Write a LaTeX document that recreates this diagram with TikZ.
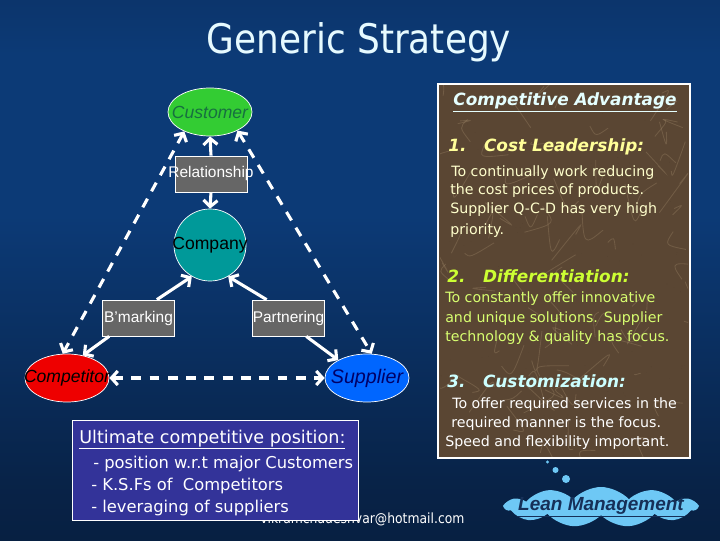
\documentclass[tikz,border=0pt]{standalone}
\usepackage{fontspec}
\setmainfont{Liberation Sans}
\newfontfamily\tah[FakeStretch=0.88]{DejaVu Sans}
\newfontfamily\verd{DejaVu Sans}
\usetikzlibrary{arrows.meta,shapes.geometric,shapes.symbols}
\definecolor{navytop}{HTML}{0A1B38}
\definecolor{navymid}{HTML}{0C3A76}
\definecolor{navybot}{HTML}{051328}
\definecolor{boxgray}{HTML}{666666}
\definecolor{custgreen}{HTML}{33CC33}
\definecolor{custtext}{HTML}{177040}
\definecolor{compteal}{HTML}{009999}
\definecolor{compred}{HTML}{EE0000}
\definecolor{supblue}{HTML}{0066FF}
\definecolor{suptext}{HTML}{000066}
\definecolor{posblue}{HTML}{333399}
\definecolor{marble}{HTML}{5A4633}
\definecolor{vein}{HTML}{A89070}
\definecolor{veindark}{HTML}{2A1E14}
\definecolor{titlecol}{HTML}{E6FAFF}
\definecolor{headone}{HTML}{FFFF99}
\definecolor{headtwo}{HTML}{CCFF33}
\definecolor{headthree}{HTML}{CCFFFF}
\definecolor{bodyone}{HTML}{FFFFCC}
\definecolor{bodytwo}{HTML}{D8FF70}
\definecolor{cloudblue}{HTML}{6EC8F5}
\definecolor{leantext}{HTML}{163058}
\pgfdeclareverticalshading{bgshade}{100bp}{color(0bp)=(navybot); color(30bp)=(navybot!60!navymid); color(55bp)=(navymid); color(70bp)=(navymid); color(100bp)=(navytop)}
\begin{document}
\begin{tikzpicture}[x=0.025cm,y=0.025cm,
  box/.style={draw=white,line width=0.5pt,fill=boxgray,minimum width=1.8cm,minimum height=0.9cm,inner sep=0pt},
  oval/.style={ellipse,draw=white,line width=0.5pt,minimum width=2.1cm,minimum height=1.2cm,inner sep=0pt},
  boxtext/.style={text=white,font=\fontsize{11}{11}\selectfont},
  ovaltext/.style={font=\fontsize{12.5}{12.5}\selectfont\itshape},
  link/.style={white,line width=2.2pt,-{Straight Barb[length=4.5pt,width=10pt]}},
  dlink/.style={white,line width=2.2pt,dash pattern=on 7pt off 6pt,{Straight Barb[length=4.5pt,width=10pt]}-{Straight Barb[length=4.5pt,width=10pt]}},
  head/.style={anchor=base west,inner sep=0pt,font=\verd\bfseries\itshape\fontsize{12}{12}\selectfont},
  body/.style={anchor=base west,inner sep=0pt,font=\verd\fontsize{10.1}{10.1}\selectfont},
  postext/.style={anchor=base west,inner sep=0pt,text=white,font=\verd\fontsize{11.6}{11.6}\selectfont}]
\shade[shading=bgshade] (0,0) rectangle (720,540);
\node[text=titlecol,font=\tah\fontsize{29}{29}\selectfont] (title) at (359,498) {Generic Strategy};
% triangle
\node[oval,fill=custgreen,label={[ovaltext,text=custtext]center:Customer}] (cust) at (210,428) {};
\node[box,label={[boxtext]center:Relationship}] (rel) at (211,366) {};
\node[circle,draw=white,line width=0.5pt,fill=compteal,minimum size=1.8cm,inner sep=0pt,label={[font=\fontsize{12.5}{12.5}\selectfont]center:Company}] (comp) at (210,295) {};
\node[box,label={[boxtext]center:B’marking}] (bm) at (138.5,222) {};
\node[box,label={[boxtext]center:Partnering}] (part) at (288.5,222) {};
\node[oval,fill=compred,label={[ovaltext]center:Competitor}] (rival) at (67,162) {};
\node[oval,fill=supblue,label={[ovaltext,text=suptext,font=\fontsize{14}{14}\selectfont\itshape]center:Supplier}] (sup) at (367,162) {};
\draw[link] (rel.north) -- (cust.south);
\draw[link] (rel.south) -- (comp.north);
\draw[link] (bm.45) -- (comp.240);
\draw[link] (part.140) -- (comp.300);
\draw[link] (bm.212) -- (rival.55);
\draw[link] (part.314) -- (sup.148);
\draw[dlink] (cust.217) -- (rival.100);
\draw[dlink] (cust.326) -- (sup.79);
\draw[dlink] (rival.east) -- (sup.west);
% position box
\node[anchor=base west,inner sep=0pt,text=white,font=\tah\fontsize{10}{10}\selectfont] (mail) at (260,17) {vikramchadeshvar@hotmail.com};
\node[draw=white,line width=0.6pt,fill=posblue,minimum width=7.15cm,minimum height=2.5cm] (posbox) at (215,70) {};
\node[postext,font=\verd\fontsize{12.5}{12.5}\selectfont] (p0) at (79,97) {\underline{Ultimate competitive position:}};
\node[postext] (p1) at (93,72) {- position w.r.t major Customers};
\node[postext] (p2) at (91,50) {- K.S.Fs of\ \ Competitors};
\node[postext] (p3) at (91,28) {- leveraging of suppliers};
% advantage panel
\node[draw=white,line width=1.5pt,fill=marble,minimum width=6.3cm,minimum height=9.35cm] (adv) at (564,269) {};
\begin{scope}
\clip (440,84) rectangle (688,454);
\pgfmathsetseed{11}
\foreach \i in {1,...,160}{
  \pgfmathsetmacro\xa{440+rnd*248}
  \pgfmathsetmacro\ya{84+rnd*370}
  \fill[veindark,opacity=.18] (\xa,\ya) ellipse ({0.1+rnd*0.35} and {0.08+rnd*0.25});
}
\foreach \i in {1,...,80}{
  \pgfmathsetmacro\xa{440+rnd*248}
  \pgfmathsetmacro\ya{84+rnd*370}
  \draw[vein,opacity=.3,line width=.6pt] (\xa,\ya) .. controls ++(rnd*40-20,rnd*40-20) .. ++(rnd*60-30,rnd*60-30);
}
\end{scope}
\node[anchor=base,inner sep=0pt,text=headthree!50!white,font=\verd\bfseries\itshape\fontsize{12}{12}\selectfont] (advt) at (565,434) {\underline{Competitive Advantage}};
\node[head,text=headone] (h1) at (448,388) {1.\ \ \ Cost Leadership:};
\node[body,text=bodyone] (b11) at (451,363) {To continually work reducing};
\node[body,text=bodyone] (b12) at (450,345) {the cost prices of products.};
\node[body,text=bodyone] (b13) at (450,326) {Supplier Q-C-D has very high};
\node[body,text=bodyone] (b14) at (450,306) {priority.};
\node[head,text=headtwo] (h2) at (447,258) {2.\ \ \ Differentiation:};
\node[body,text=bodytwo] (b21) at (445,238) {To constantly offer innovative};
\node[body,text=bodytwo] (b22) at (445,218) {and unique solutions. Supplier};
\node[body,text=bodytwo] (b23) at (445,199) {technology \& quality has focus.};
\node[head,text=headthree] (h3) at (447,153) {3.\ \ \ Customization:};
\node[body,text=white] (b31) at (452,132) {To offer required services in the};
\node[body,text=white] (b32) at (451,113) {required manner is the focus.};
\node[body,text=white] (b33) at (445,94) {Speed and flexibility important.};
% thought cloud
\fill[cloudblue] (547.5,78) circle (0.04cm);
\fill[cloudblue] (555.5,70) circle (0.075cm);
\fill[cloudblue] (566,61) circle (0.1cm);
\node[cloud,cloud puffs=11,cloud puff arc=95,aspect=5,fill=cloudblue,minimum width=4.8cm,minimum height=1cm,inner sep=0pt,label={[text=leantext,font=\bfseries\itshape\fontsize{13.5}{13.5}\selectfont]center:\underline{Lean Management}}] (lean) at (601,33) {};
\end{tikzpicture}
\end{document}
